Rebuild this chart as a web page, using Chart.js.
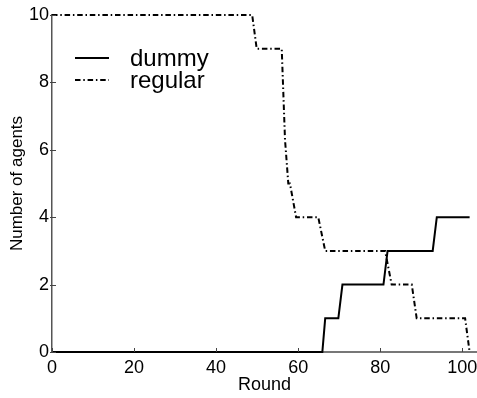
<!DOCTYPE html>
<html>
<head>
<meta charset="utf-8">
<script src="https://cdn.jsdelivr.net/npm/chart.js@4.4.0/dist/chart.umd.min.js"></script>
<style>
  body { margin: 0; background: #fff; }
  canvas { display: block; }
</style>
</head>
<body>
<canvas id="c" width="477" height="398"></canvas>
<script>
// step curves (round, number of agents)
var dummyRounds = [0, 65.9, 66.6, 69.8, 70.8, 80.8, 81.8, 92.8, 93.8, 101.8];
var dummyAgents = [0, 0, 1, 1, 2, 2, 3, 3, 4, 4];

var regularRounds = [0, 48.8, 49.9, 56, 56.8, 57.6, 58, 59.5, 64.9, 66.6, 81.2, 82.8, 87.7, 88.9, 100.7, 101.8];
var regularAgents = [10, 10, 9, 9, 6.3, 5, 5, 4, 4, 3, 3, 2, 2, 1, 1, 0];

var xTicks = [0, 20, 40, 60, 80, 100];
var yTicks = [0, 2, 4, 6, 8, 10];

function pts(xs, ys) {
  return xs.map(function (x, i) { return { x: x, y: ys[i] }; });
}

var FONT = "'Liberation Sans', Arial, sans-serif";

// inward tick marks + legend in the upper left corner
var extras = {
  id: 'extras',
  afterDraw: function (chart) {
    var ctx = chart.ctx, xs = chart.scales.x, ys = chart.scales.y, a = chart.chartArea;
    ctx.save();
    ctx.strokeStyle = '#444';
    ctx.lineWidth = 1;
    xTicks.forEach(function (v) {
      var p = Math.round(xs.getPixelForValue(v)) + 0.5;
      ctx.beginPath(); ctx.moveTo(p, a.bottom); ctx.lineTo(p, a.bottom - 4); ctx.stroke();
    });
    yTicks.forEach(function (v) {
      var p = Math.round(ys.getPixelForValue(v)) + 0.5;
      ctx.beginPath(); ctx.moveTo(a.left - 2, p); ctx.lineTo(a.left + 4, p); ctx.stroke();
    });

    var ds = chart.data.datasets;
    ctx.font = '24px ' + FONT;
    ctx.fillStyle = '#000';
    ctx.textBaseline = 'alphabetic';
    ds.forEach(function (d, i) {
      var y = a.top + 43 + i * 22;
      ctx.strokeStyle = '#000';
      ctx.lineWidth = 2;
      ctx.setLineDash(d.borderDash || []);
      ctx.beginPath(); ctx.moveTo(a.left + 23, y); ctx.lineTo(a.left + 57, y); ctx.stroke();
      ctx.setLineDash([]);
      ctx.fillText(d.label, a.left + 78, y + 8);
    });
    ctx.restore();
  }
};

new Chart(document.getElementById('c'), {
  type: 'line',
  data: {
    datasets: [
      {
        label: 'dummy',
        data: pts(dummyRounds, dummyAgents),
        borderColor: '#000',
        borderWidth: 2,
        pointRadius: 0,
        tension: 0,
        clip: false
      },
      {
        label: 'regular',
        data: pts(regularRounds, regularAgents),
        borderColor: '#000',
        borderWidth: 2,
        borderDash: [5.5, 2.8, 1.5, 2.8],
        pointRadius: 0,
        tension: 0,
        clip: false
      }
    ]
  },
  options: {
    responsive: false,
    animation: false,
    layout: { padding: { top: 15, right: 0, left: 0, bottom: 0 } },
    plugins: { legend: { display: false }, tooltip: { enabled: false } },
    scales: {
      x: {
        type: 'linear',
        min: 0,
        max: 103.6,
        afterBuildTicks: function (s) { s.ticks = xTicks.map(function (v) { return { value: v }; }); },
        afterFit: function (s) { s.height = 46; s.paddingLeft = 0; s.paddingRight = 0; },
        grid: { display: false, drawTicks: false },
        border: { display: true, color: '#777', width: 2 },
        ticks: { color: '#000', padding: 5, font: { family: FONT, size: 18 }, maxRotation: 0 },
        title: { display: true, text: 'Round', color: '#000', padding: { top: 0, bottom: 2 }, font: { family: FONT, size: 18 } }
      },
      y: {
        min: 0,
        max: 10,
        afterBuildTicks: function (s) { s.ticks = yTicks.map(function (v) { return { value: v }; }); },
        afterFit: function (s) { s.width = 52; },
        grid: { display: false, drawTicks: false },
        border: { display: true, color: '#555', width: 1.5 },
        ticks: { color: '#000', padding: 3, font: { family: FONT, size: 18 } },
        title: { display: true, text: 'Number of agents', color: '#000', padding: { top: 7, bottom: 0 }, font: { family: FONT, size: 17 } }
      }
    }
  },
  plugins: [extras]
});
</script>
</body>
</html>
